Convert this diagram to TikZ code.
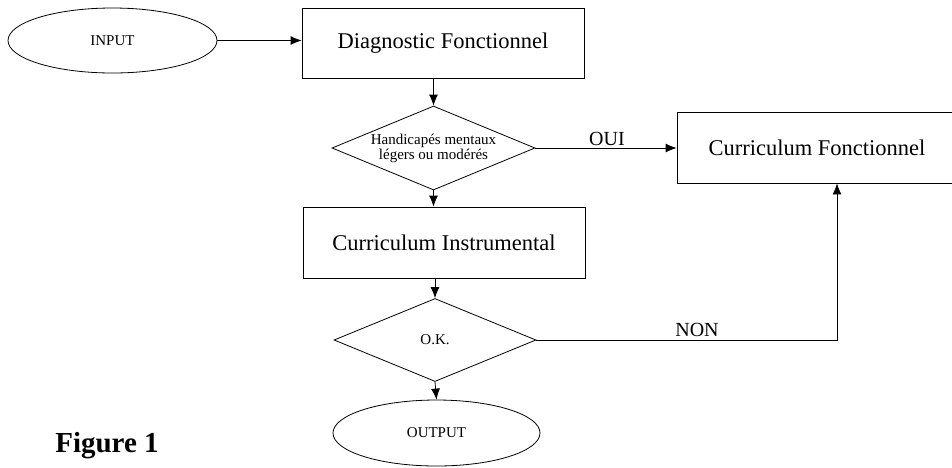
\documentclass[tikz,border=0pt]{standalone}
\usepackage{fontspec}
\setmainfont{Liberation Serif}
\usetikzlibrary{shapes.geometric,arrows.meta}
\begin{document}
\begin{tikzpicture}[x=1pt,y=-1pt,
  line width=0.8pt,
  boxnode/.style={draw,rectangle,inner sep=0pt,font=\fontsize{22.5}{26}\selectfont},
  ovalnode/.style={draw,ellipse,inner sep=0pt,font=\fontsize{15}{17}\selectfont},
  decnode/.style={draw,diamond,aspect=2.4,inner sep=0pt,font=\fontsize{15}{15}\selectfont,align=center},
  lbl/.style={inner sep=0pt,font=\fontsize{20}{22}\selectfont},
  arr/.style={-{Latex[length=11pt,width=9pt]}}]
\useasboundingbox (0,0) rectangle (952,467);
\node[ovalnode,minimum width=209pt,minimum height=65pt] (inp) at (112.5,40.5) {INPUT};
\node[boxnode,minimum width=282pt,minimum height=70pt] (diag) at (443,43) {Diagnostic Fonctionnel};
\node[decnode,minimum width=203pt,minimum height=84pt] (d1) at (433.5,148) {Handicapés mentaux\\légers ou modérés};
\node[boxnode,minimum width=280pt,minimum height=71pt] (cf) at (817,147.5) {Curriculum Fonctionnel};
\node[boxnode,minimum width=282pt,minimum height=71pt] (ci) at (444,242.5) {Curriculum Instrumental};
\node[decnode,minimum width=202pt,minimum height=83pt] (d2) at (435,340) {O.K.};
\node[ovalnode,minimum width=207pt,minimum height=66pt] (out) at (436.5,433) {OUTPUT};
\node[lbl] (oui) at (607,139) {OUI};
\node[lbl] (non) at (697,330) {NON};
\node[inner sep=0pt,font=\fontsize{29}{32}\selectfont\bfseries] (fig) at (107,446) {Figure 1};
\draw[arr] (inp.east) -- (inp.east -| diag.west);
\draw[arr] (d1.north |- diag.south) -- (d1.north);
\draw[arr] (d1.east) -- (d1.east -| cf.west);
\draw[arr] (d1.south) -- (d1.south |- ci.north);
\draw[arr] (d2.north |- ci.south) -- (d2.north);
\draw[arr] (d2.south) -- (out.north);
\coordinate (turn) at (837,340);
\draw[arr] (d2.east) -- (turn) -- (turn |- cf.south);
\end{tikzpicture}
\end{document}
